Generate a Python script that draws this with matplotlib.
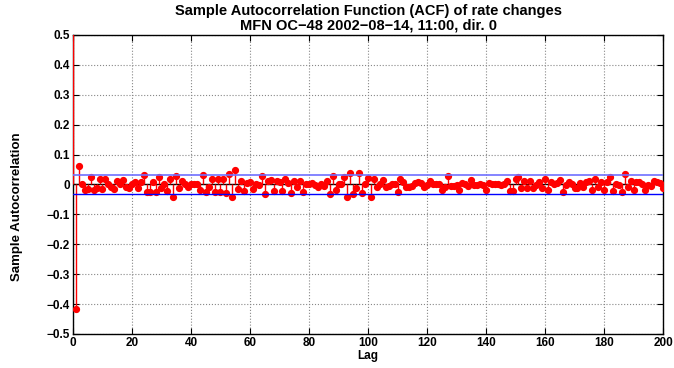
import numpy as np
import matplotlib
matplotlib.use("Agg")
import matplotlib.pyplot as plt

# sample ACF, lags 0..200
lags = np.arange(0, 201)
acf = [
    1.0, -0.415, 0.063, 0.003, -0.018, -0.015, 0.024, -0.018, -0.012, 0.020,
    -0.015, 0.020, 0.002, -0.010, -0.015, 0.012, 0.000, 0.015, -0.008, -0.011,
    0.000, 0.009, -0.012, 0.009, 0.033, -0.024, -0.024, 0.009, -0.024, 0.026,
    -0.013, 0.003, -0.021, 0.017, -0.041, 0.027, -0.013, 0.012, 0.001, -0.008,
    0.003, 0.002, 0.000, -0.020, 0.033, -0.025, -0.010, 0.020, -0.025, 0.018,
    -0.025, 0.018, -0.028, 0.034, -0.043, 0.048, -0.015, 0.012, -0.023, 0.005,
    0.007, -0.015, 0.002, -0.001, 0.028, -0.033, 0.013, 0.016, -0.023, 0.012,
    0.007, -0.023, 0.018, 0.005, -0.028, 0.012, -0.010, 0.012, -0.025, 0.003,
    0.000, 0.005, -0.003, -0.008, 0.000, -0.004, 0.012, -0.033, 0.028, -0.020,
    0.002, 0.003, 0.025, -0.043, 0.038, -0.031, -0.011, 0.037, -0.030, 0.000,
    0.022, -0.043, 0.017, -0.010, 0.000, 0.015, -0.008, -0.004, 0.002, 0.000,
    -0.025, 0.018, 0.008, -0.010, -0.010, -0.004, 0.005, 0.007, 0.005, -0.010,
    -0.002, 0.013, 0.000, 0.002, 0.000, -0.017, -0.010, 0.028, -0.004, -0.004,
    -0.001, -0.020, 0.005, 0.003, -0.006, 0.015, -0.001, -0.001, 0.001, -0.001,
    -0.017, 0.005, 0.003, 0.002, 0.001, -0.002, 0.000, 0.012, -0.022, -0.022,
    0.018, 0.024, -0.013, 0.013, -0.013, 0.013, -0.013, -0.001, 0.007, -0.013,
    0.018, -0.017, 0.007, 0.001, 0.005, 0.015, -0.026, -0.001, 0.007, 0.000,
    -0.013, -0.013, 0.005, -0.010, 0.007, 0.012, -0.017, 0.018, -0.008, 0.007,
    -0.017, 0.007, 0.025, -0.022, 0.003, -0.001, -0.024, 0.034, -0.008, 0.013,
    -0.017, 0.007, 0.007, 0.001, -0.017, -0.001, -0.004, 0.013, 0.007, 0.005,
    -0.013,
]
conf = 0.031

title_lines = ["Sample Autocorrelation Function (ACF) of rate changes",
               "MFN OC\u221248 2002\u221208\u221214, 11:00, dir. 0"]
xticks = [0, 20, 40, 60, 80, 100, 120, 140, 160, 180, 200]
yticks = [-0.5, -0.4, -0.3, -0.2, -0.1, 0, 0.1, 0.2, 0.3, 0.4, 0.5]

plt.rcParams['font.family'] = ['Liberation Sans', 'DejaVu Sans']
plt.rcParams['font.weight'] = 'bold'

fig = plt.figure(figsize=(6.74, 3.68), dpi=100)
ax = fig.add_axes([0.1083, 0.0924, 0.8754, 0.8125])

ml, sl, bl = ax.stem(lags, acf, basefmt='k-')
plt.setp(sl, color='red', linewidth=1.0, zorder=3)
plt.setp(ml, color='red', markersize=4.2, markeredgecolor='red', zorder=3.1)
plt.setp(bl, color='black', linewidth=1.0, xdata=[0, 200])

ax.axhline(conf, color='#7070ff', lw=1.2, zorder=4)
ax.axhline(-conf, color='blue', lw=1.0, zorder=4)

ax.set_xlim(0, 200)
ax.set_ylim(-0.5, 0.5)
ax.set_xticks(xticks)
ax.set_yticks(yticks)
ax.set_yticklabels(['\u22120.5', '\u22120.4', '\u22120.3', '\u22120.2', '\u22120.1',
                    '0', '0.1', '0.2', '0.3', '0.4', '0.5'])
ax.tick_params(direction='in', length=4, width=0.8, labelsize=8.5,
               top=True, right=True, pad=2)
for lab in ax.get_xticklabels() + ax.get_yticklabels():
    lab.set_fontweight('bold')
ax.grid(True, linestyle=':', color='#888888', linewidth=0.8)
for s in ax.spines.values():
    s.set_linewidth(1.0)

ax.set_title("\n".join(title_lines), fontsize=10.5, fontweight='bold',
             pad=4, linespacing=1.05)
ax.set_xlabel("Lag", fontsize=8.5, fontweight='bold', labelpad=1)
ax.set_ylabel("Sample Autocorrelation", fontsize=9.5, fontweight='bold')
ax.yaxis.set_label_coords(-0.085, 0.425)

plt.savefig("out.png", dpi=100)
